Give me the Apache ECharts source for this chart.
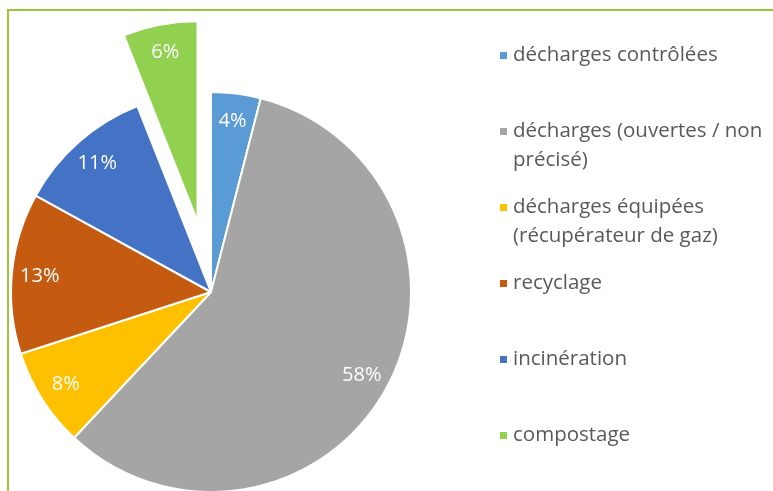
<!DOCTYPE html>
<html>
<head>
<meta charset="utf-8">
<script src="https://cdn.jsdelivr.net/npm/echarts@6/dist/echarts.min.js"></script>
<style>
html, body { margin: 0; padding: 0; background: #fff; }
#main { width: 773px; height: 491px; }
</style>
</head>
<body>
<div id="main"></div>
<script>
// data (percent)
var names = ['décharges contrôlées', 'décharges (ouvertes / non\nprécisé)', 'décharges équipées\n(récupérateur de gaz)', 'recyclage', 'incinération', 'compostage'];
var values = [4, 58, 8, 13, 11, 6];
var colors = ['#5B9BD5', '#A5A5A5', '#FFC000', '#C55A11', '#4472C4', '#92D050'];
var exploded = [false, false, false, false, false, true];

var FONT = '"Open Sans", Lato, sans-serif';

function pieData(withColor) {
	var out = [];
	for (var i = 0; i < values.length; i++) {
		out.push({
			name : names[i],
			value : values[i],
			selected : exploded[i],
			itemStyle : withColor ? { color : colors[i] } : { color : 'rgba(0,0,0,0)', borderWidth : 0 }
		});
	}
	return out;
}

var chart = echarts.init(document.getElementById('main'));
var option = {
	animation : false,
	textStyle : { fontFamily : FONT },
	graphic : [ {
		type : 'rect',
		shape : { x : 8, y : 10, width : 800, height : 520 },
		style : { fill : 'none', stroke : '#9BC53D', lineWidth : 2 },
		silent : true
	} ],
	legend : {
		orient : 'vertical',
		left : 493,
		top : 7,
		itemWidth : 9,
		itemHeight : 9,
		itemGap : -11,
		icon : 'rect',
		selectedMode : false,
		data : names,
		// every entry is 3 lines tall so the marker sits on the first text line
		formatter : function(name) {
			return name.indexOf('\n') >= 0 ? '\n' + name : '\n' + name + '\n';
		},
		textStyle : {
			fontSize : 20.5,
			lineHeight : 29,
			color : '#595959',
			fontFamily : FONT
		}
	},
	series : [ {
		type : 'pie',
		center : [ 211, 292 ],
		radius : [ 0, 200 ],
		startAngle : 90,
		clockwise : true,
		selectedMode : 'multiple',
		selectedOffset : 72,
		silent : true,
		emphasis : { scale : false },
		itemStyle : { borderColor : '#fff', borderWidth : 2 },
		label : { show : false },
		labelLine : { show : false },
		data : pieData(true)
	}, {
		// invisible copy, only carries the labels at ~0.85 r
		type : 'pie',
		center : [ 211, 292 ],
		radius : [ 0, 338 ],
		startAngle : 90,
		clockwise : true,
		selectedMode : 'multiple',
		selectedOffset : 72,
		silent : true,
		emphasis : { scale : false },
		label : {
			show : true,
			position : 'inside',
			formatter : '{c}%',
			color : '#fff',
			fontSize : 20,
			fontFamily : FONT
		},
		labelLine : { show : false },
		data : pieData(false)
	} ]
};
chart.setOption(option);
</script>
</body>
</html>
